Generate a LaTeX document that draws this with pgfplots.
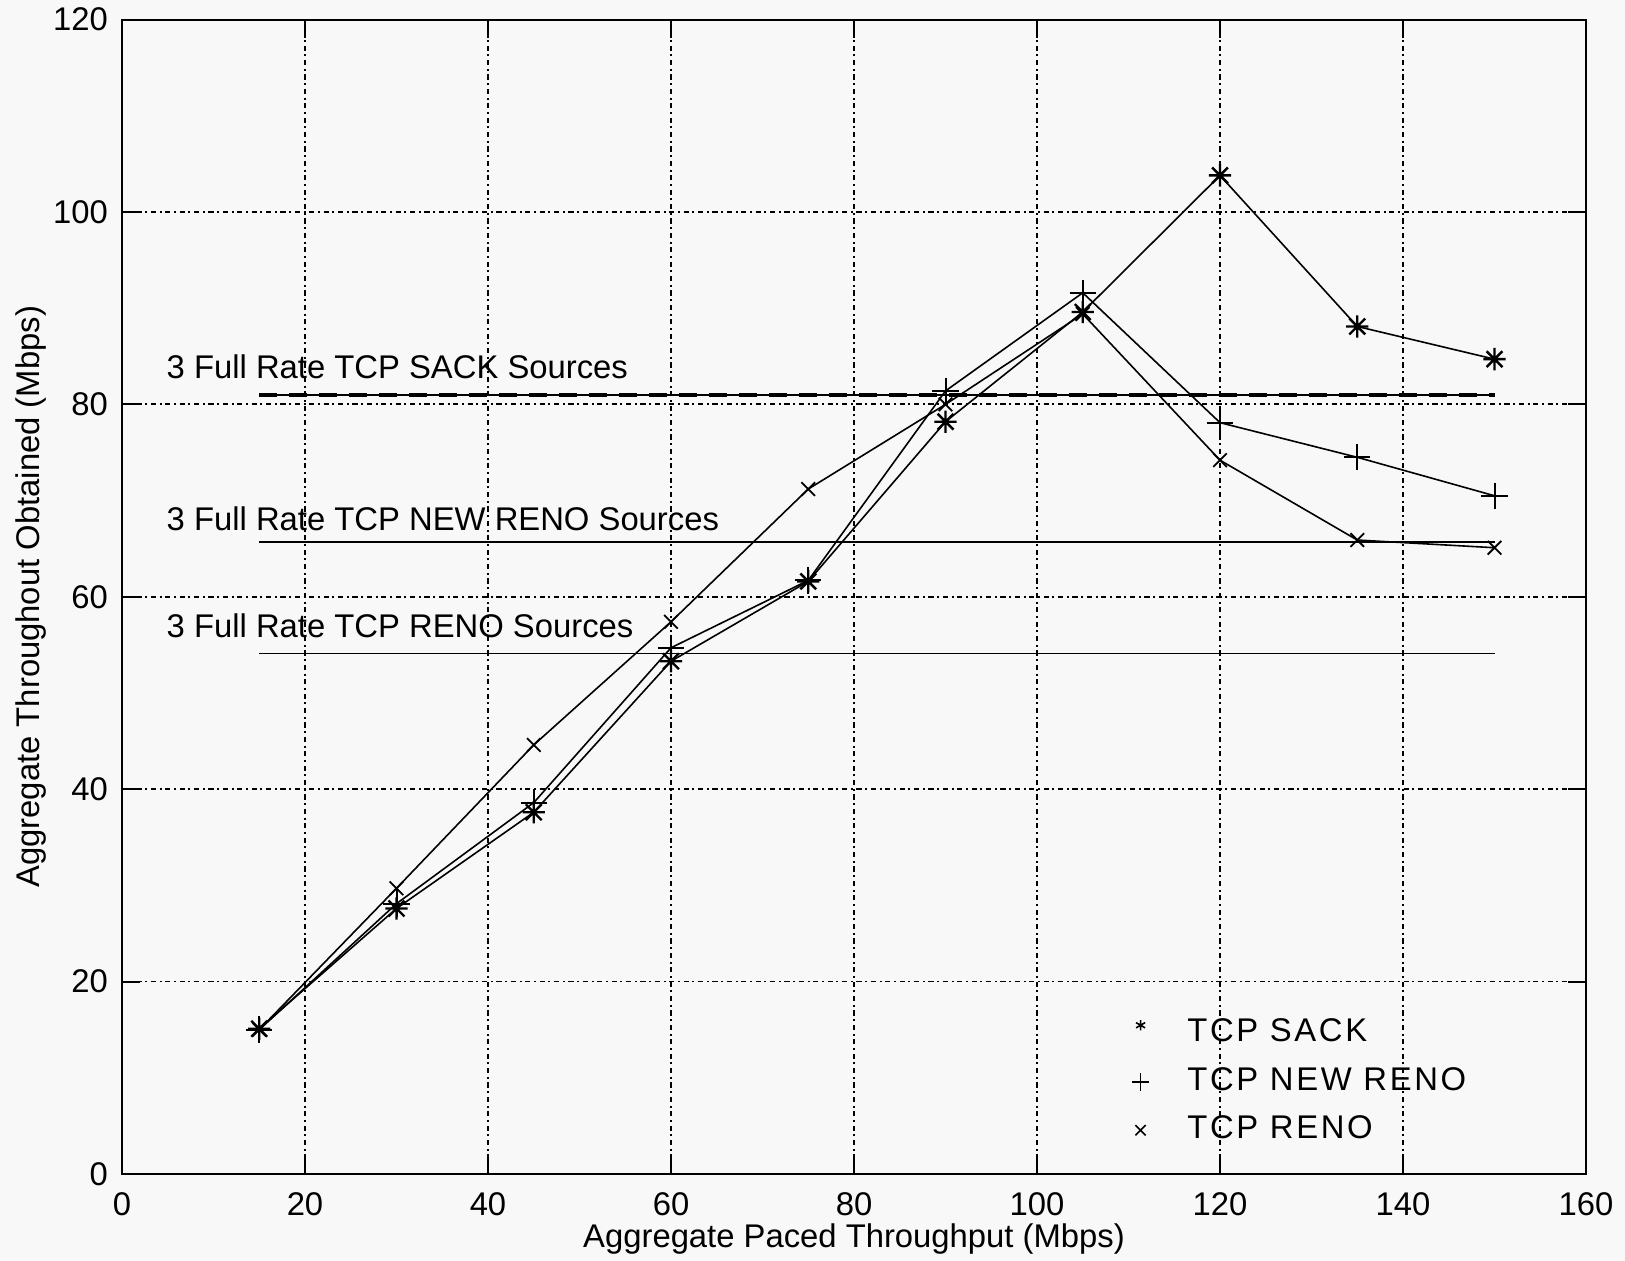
\documentclass[border=0pt]{standalone}
\usepackage{fontspec}
\setmainfont{Liberation Sans}
\usepackage{pgfplots}
\pgfplotsset{compat=1.18}
\definecolor{paper}{RGB}{248,248,248}

% matlab style '*' marker: plus and cross on top of each other
\pgfdeclareplotmark{mstar}{%
  \pgfpathmoveto{\pgfqpoint{-\pgfplotmarksize}{0pt}}%
  \pgfpathlineto{\pgfqpoint{\pgfplotmarksize}{0pt}}%
  \pgfpathmoveto{\pgfqpoint{0pt}{-\pgfplotmarksize}}%
  \pgfpathlineto{\pgfqpoint{0pt}{\pgfplotmarksize}}%
  \pgfpathmoveto{\pgfqpoint{-.7071\pgfplotmarksize}{-.7071\pgfplotmarksize}}%
  \pgfpathlineto{\pgfqpoint{.7071\pgfplotmarksize}{.7071\pgfplotmarksize}}%
  \pgfpathmoveto{\pgfqpoint{-.7071\pgfplotmarksize}{.7071\pgfplotmarksize}}%
  \pgfpathlineto{\pgfqpoint{.7071\pgfplotmarksize}{-.7071\pgfplotmarksize}}%
  \pgfusepathqstroke}

\newcommand{\fs}{\fontsize{8.2pt}{9.8pt}\selectfont}
\newcommand{\lfs}{\fontsize{8.2pt}{9.8pt}\selectfont\addfontfeature{LetterSpace=8}}

\begin{document}
\begin{tikzpicture}
\path[use as bounding box, fill=paper] (-30.5pt,-21.75pt) rectangle (375.75pt,293.5pt);
\begin{axis}[
  at={(0,0)}, anchor=south west,
  scale only axis,
  width=366pt, height=288.6pt,
  xmin=0, xmax=160, ymin=0, ymax=120,
  xtick={0,20,...,160}, ytick={0,20,...,120},
  /pgf/number format/assume math mode=true,
  tick label style={font=\fs},
  xticklabel style={yshift=-1pt},
  major tick length=4.5pt,
  tick style={black, line width=0.5pt},
  axis line style={line width=0.5pt},
  grid=major,
  major grid style={black, line width=0.45pt, dash pattern=on 1.3pt off 0.9pt on 0.5pt off 0.9pt},
  xlabel={Aggregate Paced Throughput (Mbps)},
  ylabel={Aggregate Throughout Obtained (Mbps)},
  label style={font=\fs},
  xlabel style={at={(axis description cs:0.5,-0.0565)}, anchor=center},
  ylabel style={at={(axis description cs:-0.062,0.5)}, anchor=center, rotate=0},
  legend style={draw=none, fill=none, font=\lfs, at={(0.681,0.149)}, anchor=north west,
    row sep=0.9pt, /tikz/every odd column/.append style={column sep=7.5pt}},
  legend cell align=left,
]
% reference levels for 3 full rate sources
\addplot[forget plot, black, line width=0.4pt] coordinates {(15,81) (150,81)};
\addplot[forget plot, black, line width=1.1pt, dash pattern=on 4.5pt off 3pt] coordinates {(15,81) (150,81)};
\addplot[forget plot, black, line width=0.45pt] coordinates {(15,65.7) (150,65.7)};
\addplot[forget plot, black, line width=0.45pt] coordinates {(15,54.1) (150,54.1)};

% TCP SACK
\addplot[forget plot, black, line width=0.4pt, mark=mstar, mark size=2.8pt, mark options={line width=0.6pt}]
  coordinates {(15,15.1) (30,27.6) (45,37.6) (60,53.3) (75,61.6) (90,78.2) (105,89.6) (120,103.8) (135,88.1) (150,84.7)};
% TCP NEW RENO
\addplot[forget plot, black, line width=0.4pt, mark=+, mark size=3.3pt, mark options={line width=0.5pt}]
  coordinates {(15,15) (30,28.1) (45,38.6) (60,54.7) (75,61.7) (90,81.4) (105,91.6) (120,78.1) (135,74.5) (150,70.5)};
% TCP RENO
\addplot[forget plot, black, line width=0.4pt, mark=x, mark size=2.4pt, mark options={line width=0.45pt}]
  coordinates {(15,15) (30,29.7) (45,44.6) (60,57.4) (75,71.2) (90,80.0) (105,89.4) (120,74.2) (135,65.9) (150,65.1)};

\addlegendimage{only marks, black, mark=asterisk, mark size=1.3pt, mark options={yshift=2pt, line width=0.4pt}}
\addlegendentry{TCP SACK}
\addlegendimage{only marks, black, mark=+, mark size=2.2pt}
\addlegendentry{TCP NEW RENO}
\addlegendimage{only marks, black, mark=x, mark size=1.8pt}
\addlegendentry{TCP RENO}

\node[anchor=west, font=\fs, inner sep=0pt] at (axis cs:4.8,83.9) {3 Full Rate TCP SACK Sources};
\node[anchor=west, font=\fs, inner sep=0pt] at (axis cs:4.8,68.1) {3 Full Rate TCP NEW RENO Sources};
\node[anchor=west, font=\fs, inner sep=0pt] at (axis cs:4.8,57.0) {3 Full Rate TCP RENO Sources};
\end{axis}
\end{tikzpicture}
\end{document}
